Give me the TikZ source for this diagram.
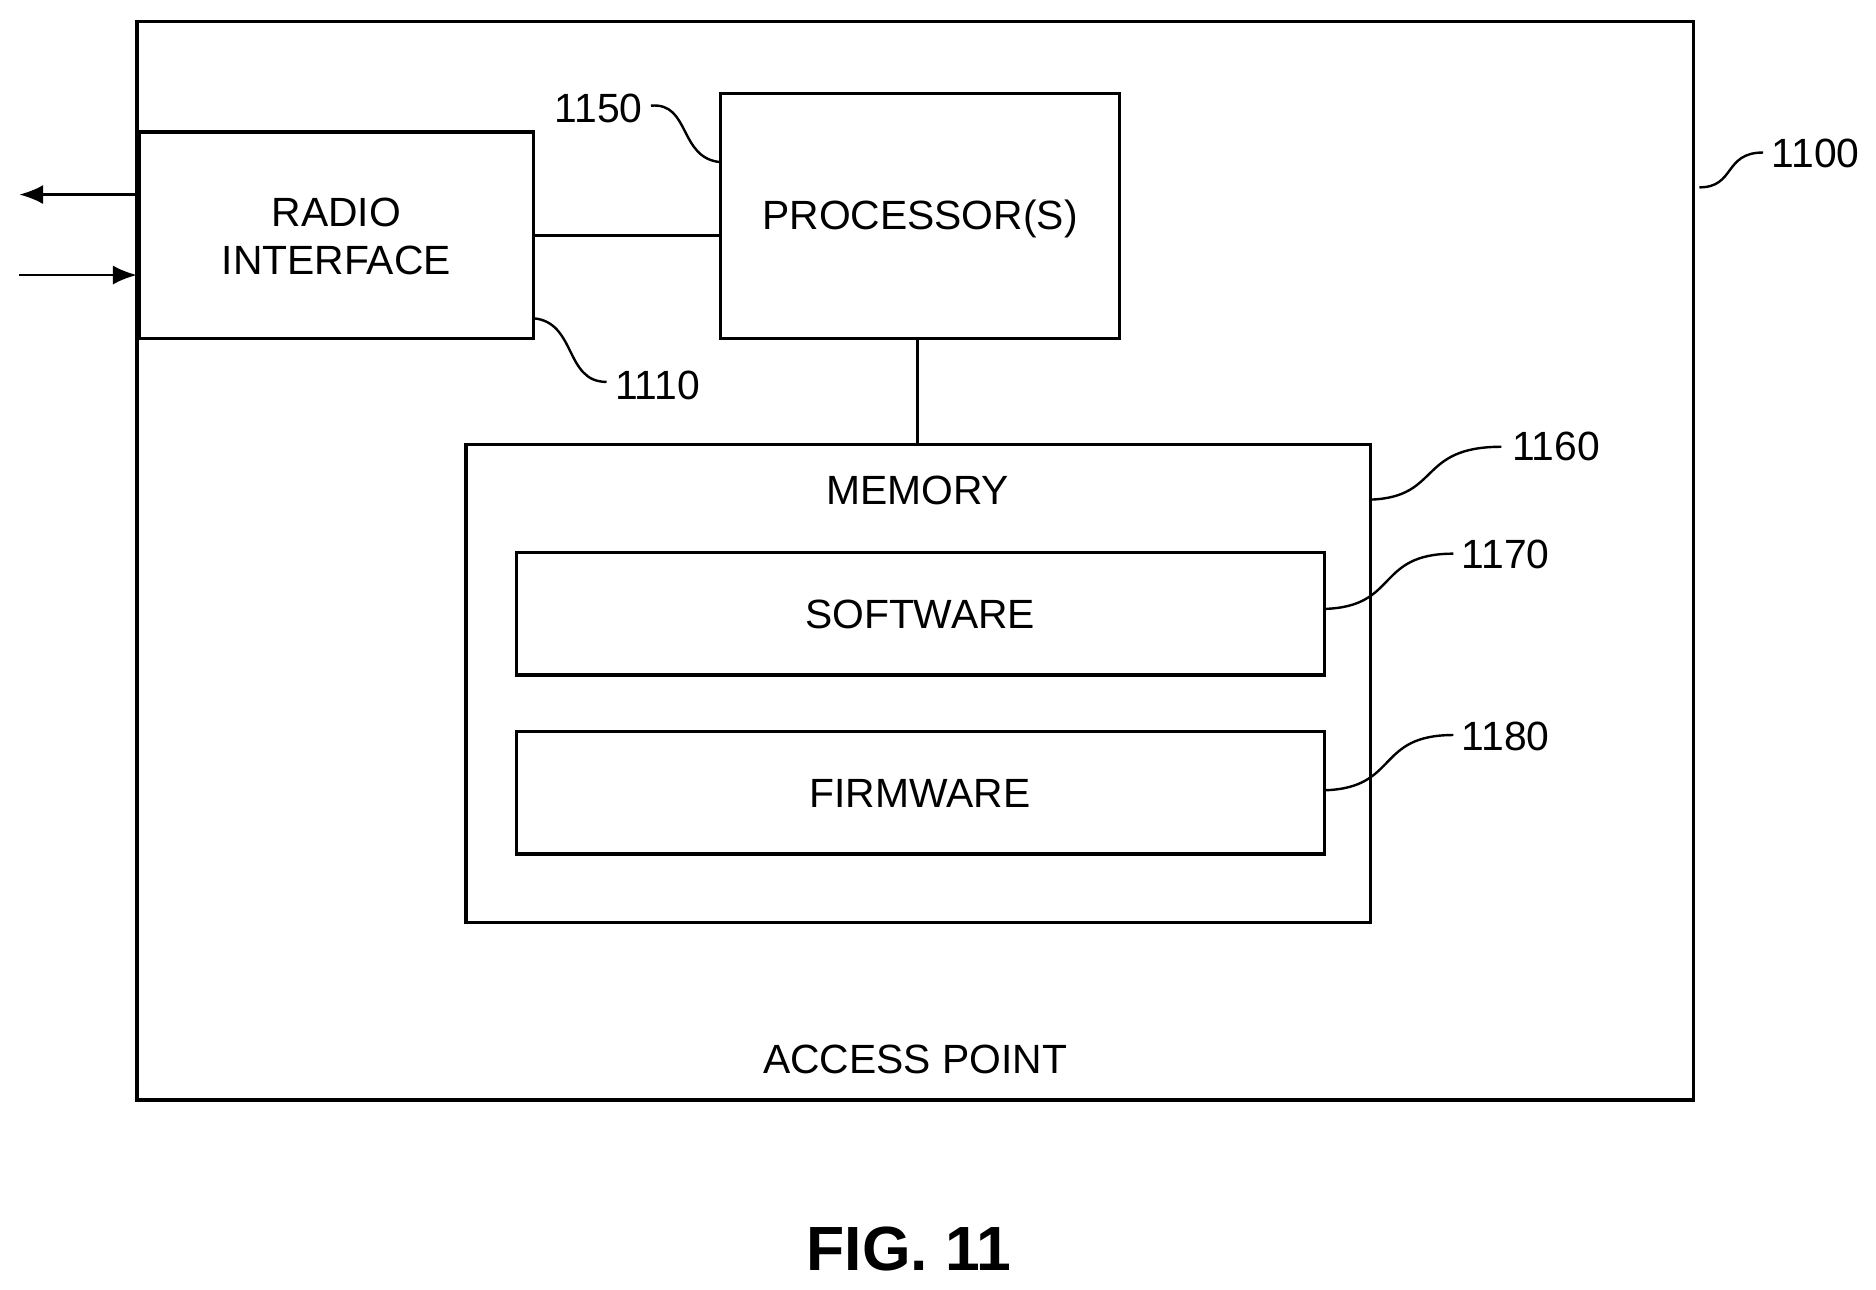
\documentclass[tikz,border=0pt]{standalone}
\usepackage{fontspec}
\setmainfont{Liberation Sans}
\usetikzlibrary{arrows.meta}
\begin{document}
\begin{tikzpicture}[x=0.5pt,y=-0.5pt,
  box/.style={draw,line width=1.4pt},
  txt/.style={font=\fontsize{17}{20}\selectfont},
  lead/.style={line width=1pt},
  conn/.style={line width=1.2pt}]
\useasboundingbox (0,0) rectangle (1562,1074);
\draw[box] (114,18) rectangle (1410,916);
\draw[box] (116,110) rectangle (444,282);
\node[txt,align=center] (radio) at (280,197) {RADIO\\INTERFACE};
\coordinate (rtl) at (114,107);
\draw[box] (600,78) rectangle (932,282);
\node[txt] (proc) at (766,182) {PROCESSOR(S)};
\draw[box] (388,370) rectangle (1141,768);
\node[txt] (mem) at (764,408) {MEMORY};
\draw[box] (430,460) rectangle (1103,562);
\node[txt] (sw) at (766,512) {SOFTWARE};
\draw[box] (430,609) rectangle (1103,711);
\node[txt] (fw) at (766,661) {FIRMWARE};
\node[txt] (ap) at (762,882) {ACCESS POINT};
\node[font=\bfseries\fontsize{26}{30}\selectfont] (fig) at (757,1040) {FIG. 11};
% connectors
\coordinate (a1) at (114,162); \coordinate (a1e) at (16,162);
\coordinate (a2s) at (16,229); \coordinate (a2) at (114,229);
\draw[conn,-{Latex[length=10pt,width=8pt]}] (a1) -- (a1e);
\draw[conn,-{Latex[length=10pt,width=8pt]}] (a2s) -- (a2);
\coordinate (ri) at (444,196); \coordinate (pi) at (600,196);
\draw[conn] (ri) -- (pi);
\coordinate (pb) at (764,282); \coordinate (mt) at (764,370);
\draw[conn] (pb) -- (mt);
% labels
\node[txt,anchor=east] (l1150) at (542,90) {1150};
\draw[lead] (542,88) .. controls (575,85) and (565,132) .. (600,135);
\node[txt,anchor=west] (l1110) at (505,321) {1110};
\draw[lead] (444,265) .. controls (480,268) and (470,318) .. (505,318);
\node[txt,anchor=west] (l1100) at (1468,128) {1100};
\draw[lead] (1415,156) .. controls (1445,156) and (1435,127) .. (1468,127);
\node[txt,anchor=west] (l1160) at (1252,372) {1160};
\draw[lead] (1141,416) .. controls (1200,414) and (1180,372) .. (1250,372);
\node[txt,anchor=west] (l1170) at (1210,462) {1170};
\draw[lead] (1103,507) .. controls (1165,505) and (1145,461) .. (1210,461);
\node[txt,anchor=west] (l1180) at (1210,613) {1180};
\draw[lead] (1103,658) .. controls (1165,656) and (1145,612) .. (1210,612);
\end{tikzpicture}
\end{document}
